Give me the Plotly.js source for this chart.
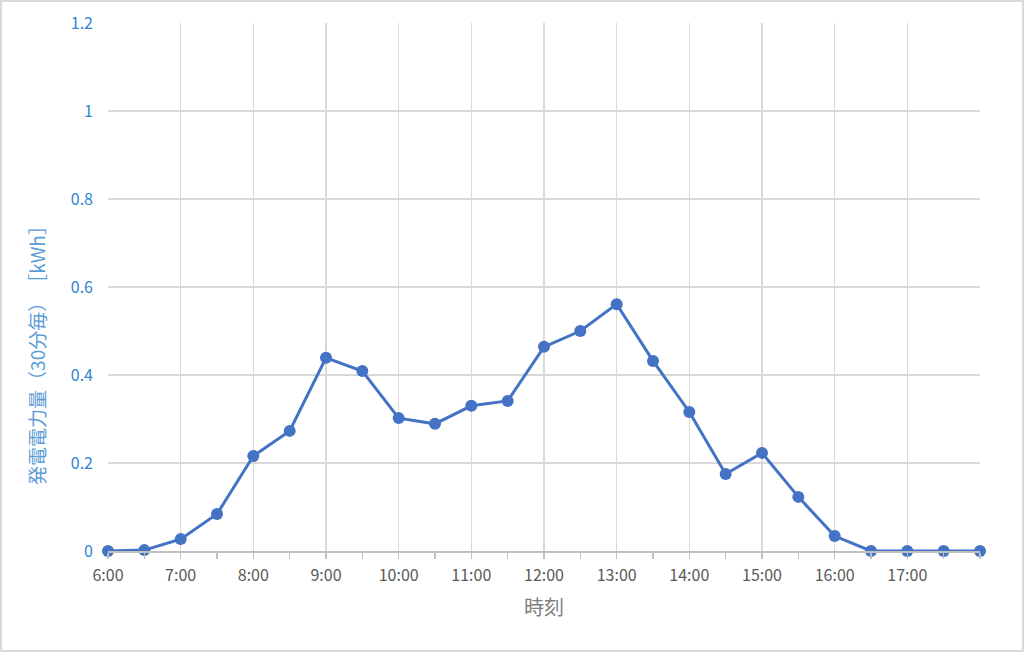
<!DOCTYPE html>
<html>
<head>
<meta charset="utf-8">
<script src="https://cdn.plot.ly/plotly-3.0.1.min.js"></script>
<style>
html,body{margin:0;padding:0;background:#fff;}
#wrap{position:relative;width:1024px;height:652px;}
#chart{width:1024px;height:652px;}
#frame{position:absolute;left:0;top:0;width:1024px;height:652px;box-sizing:border-box;border:2px solid #d9d9d9;pointer-events:none;}
</style>
</head>
<body>
<div id="wrap"><div id="chart"></div><div id="frame"></div></div>
<script>
const times = ['6:00','6:30','7:00','7:30','8:00','8:30','9:00','9:30','10:00','10:30','11:00','11:30',
  '12:00','12:30','13:00','13:30','14:00','14:30','15:00','15:30','16:00','16:30','17:00','17:30','18:00'];
const energy = [0,0.002,0.027,0.084,0.216,0.273,0.439,0.409,0.302,0.289,0.330,0.341,
  0.464,0.500,0.561,0.432,0.316,0.175,0.223,0.123,0.034,0,0,0,0];
const hourLabels = ['6:00','7:00','8:00','9:00','10:00','11:00','12:00','13:00','14:00','15:00','16:00','17:00'];
const yTitle = '発電電力量（30分毎）　［kWh］';
const xTitle = '時刻';

function toHours(s){const p=s.split(':');return Number(p[0])+Number(p[1])/60;}
const xs = times.map(toHours);
const hourVals = hourLabels.map(toHours);

const font = '"Noto Sans CJK JP", "Noto Sans", sans-serif';

Plotly.newPlot('chart', [{
  x: xs, y: energy, type: 'scatter', mode: 'lines+markers',
  line: {color: '#4472C4', width: 3},
  marker: {color: '#4472C4', size: 12},
  hoverinfo: 'skip', showlegend: false, cliponaxis: false
}], {
  width: 1024, height: 652,
  margin: {l: 108, r: 44, t: 23, b: 101},
  paper_bgcolor: '#fff', plot_bgcolor: '#fff',
  font: {family: font},
  xaxis: {
    range: [6, 18], tickmode: 'array', tickvals: hourVals, ticktext: hourLabels,
    showgrid: true, gridcolor: '#d9d9d9', gridwidth: 1.5,
    zeroline: false, showline: true, linecolor: '#bfbfbf', linewidth: 1.5,
    ticks: 'outside', ticklen: 6, tickcolor: '#bfbfbf', tickwidth: 1.5,
    minor: {tick0: 6, dtick: 0.5, ticks: 'outside', ticklen: 6, tickcolor: '#bfbfbf', tickwidth: 1.5, showgrid: false},
    tickfont: {size: 16, color: '#595959', family: font},
    ticklabelstandoff: 3,
    title: {text: xTitle, font: {size: 20, color: '#7f7f7f', family: font}, standoff: 16}
  },
  yaxis: {
    range: [0, 1.2], dtick: 0.2, tickmode: 'linear', tick0: 0,
    showgrid: true, gridcolor: '#d9d9d9', gridwidth: 1.5,
    zeroline: false, showline: false, ticks: '',
    tickfont: {size: 16, color: '#2E86D1', family: font},
    ticklabelstandoff: 14
  },
  annotations: [{
    text: yTitle, xref: 'paper', yref: 'paper', x: -0.0814, y: 0.379,
    xanchor: 'center', yanchor: 'middle', textangle: -90, showarrow: false,
    font: {size: 19, color: '#5B9BD5', family: font}
  }]
}, {displayModeBar: false, staticPlot: true});
</script>
</body>
</html>
